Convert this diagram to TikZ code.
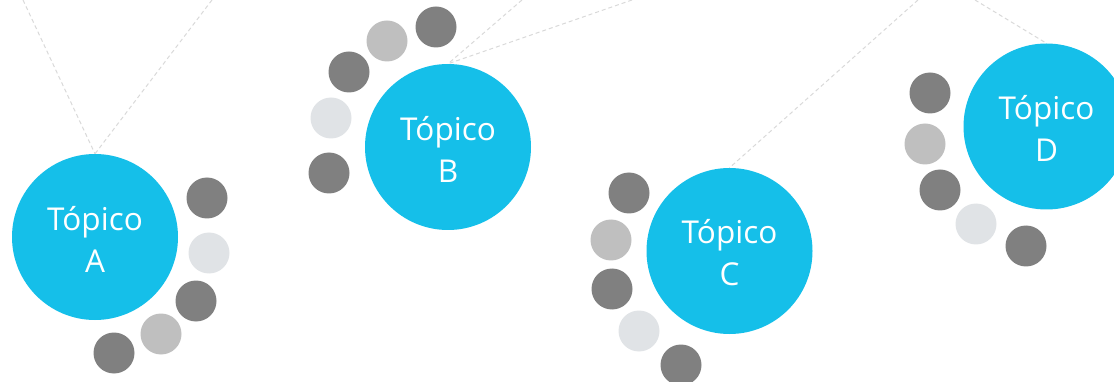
\documentclass[tikz,border=0pt]{standalone}
\usepackage{fontspec}
\setmainfont{Open Sans}
\definecolor{topicblue}{HTML}{15BFE9}
\definecolor{dotdark}{HTML}{808080}
\definecolor{dotmid}{HTML}{BFBFBF}
\definecolor{dotlight}{HTML}{E0E3E6}
\definecolor{linkgray}{HTML}{D9D9D9}
\begin{document}
\begin{tikzpicture}[x=1pt,y=-1pt,
  topic/.style={circle,fill=topicblue,inner sep=0pt,minimum size=166pt},
  topictext/.style={inner sep=0pt,text=white,align=center,
    font=\fontsize{31.5}{42}\selectfont},
  dot/.style={circle,inner sep=0pt,minimum size=41pt},
  dk/.style={dot,fill=dotdark},
  md/.style={dot,fill=dotmid},
  lt/.style={dot,fill=dotlight},
  link/.style={draw=linkgray,line width=1pt,dash pattern=on 4pt off 3pt}]
\useasboundingbox (0,0) rectangle (1114,382);
\clip (0,0) rectangle (1114,382);
% topics
\node[topic] (A) at (95,237) {};
\node[topic] (B) at (448,147) {};
\node[topic] (C) at (729.5,251) {};
\node[topic] (D) at (1046.5,126.5) {};
\node[topictext] (At) at ([yshift=-2pt]A.center) {Tópico\\A};
\node[topictext] (Bt) at ([yshift=-2pt]B.center) {Tópico\\B};
\node[topictext] (Ct) at ([yshift=-2pt]C.center) {Tópico\\C};
\node[topictext] (Dt) at ([yshift=-2pt]D.center) {Tópico\\D};
% link ends
\coordinate (a1) at (23,0);
\coordinate (a2) at (212,0);
\coordinate (b1) at (522,0);
\coordinate (b2) at (632,0);
\coordinate (c1) at (918,0);
\coordinate (d1) at (975,0);
\draw[link] (a1) -- (A.north);
\draw[link] (a2) -- (A.north);
\draw[link] (b1) -- (B.north);
\draw[link] (b2) -- (B.north);
\draw[link] (c1) -- (C.north);
\draw[link] (d1) -- (D.north);
% dots A
\node[dk] (a-d1) at (207,198) {};
\node[lt] (a-d2) at (209,253) {};
\node[dk] (a-d3) at (196,301) {};
\node[md] (a-d4) at (161,334) {};
\node[dk] (a-d5) at (114,353) {};
% dots B
\node[dk] (b-d1) at (436,27) {};
\node[md] (b-d2) at (387,41) {};
\node[dk] (b-d3) at (349,72) {};
\node[lt] (b-d4) at (331,118) {};
\node[dk] (b-d5) at (329,173) {};
% dots C
\node[dk] (c-d1) at (629,193) {};
\node[md] (c-d2) at (611,240) {};
\node[dk] (c-d3) at (612,289) {};
\node[lt] (c-d4) at (639,331) {};
\node[dk] (c-d5) at (681,365) {};
% dots D
\node[dk] (d-d1) at (930,93) {};
\node[md] (d-d2) at (925,144) {};
\node[dk] (d-d3) at (940,190) {};
\node[lt] (d-d4) at (976,224) {};
\node[dk] (d-d5) at (1026,246) {};
\end{tikzpicture}
\end{document}
